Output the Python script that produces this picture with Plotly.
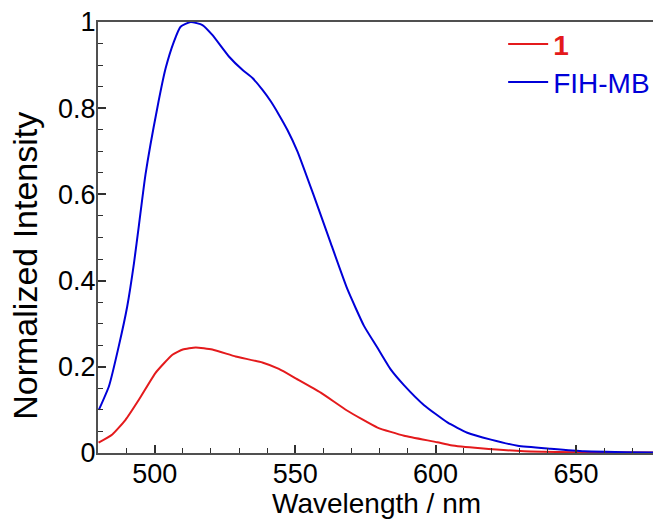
import plotly.graph_objects as go

# FIH-MB (blue)
wl_fih = [480.1, 483.7, 487.2, 490.2, 492.6, 494.4, 496.7, 500.9, 503.9, 506.8, 509.2,
          512.8, 517.0, 520.5, 526.4, 531.2, 534.8, 538.3, 541.3, 544.2, 547.2, 550.8,
          556.7, 562.6, 568.6, 574.5, 579.3, 584.0, 588.8, 595.9, 604.2, 611.3, 619.7,
          629.2, 641.0, 652.9, 677.4]
int_fih = [0.10, 0.155, 0.248, 0.34, 0.44, 0.53, 0.646, 0.80, 0.893, 0.954, 0.989,
           1.0, 0.993, 0.97, 0.92, 0.889, 0.87, 0.843, 0.816, 0.785, 0.75, 0.70,
           0.596, 0.488, 0.38, 0.295, 0.244, 0.194, 0.157, 0.111, 0.071, 0.047, 0.031,
           0.017, 0.010, 0.004, 0.001]

# compound 1 (red)
wl_1 = [480.0, 484.9, 489.6, 494.4, 500.3, 506.3, 510.0, 514.6, 520.5, 528.8, 538.3,
        544.2, 550.5, 559.1, 568.6, 579.3, 588.8, 600.6, 605.4, 616.0, 631.5, 650.0, 677.4]
int_1 = [0.024, 0.043, 0.077, 0.124, 0.186, 0.228, 0.240, 0.245, 0.24, 0.224, 0.21,
         0.195, 0.172, 0.14, 0.098, 0.059, 0.04, 0.025, 0.018, 0.011, 0.004, 0.002, 0.001]

x_ticks = [500, 550, 600, 650]
y_ticks = [0, 0.2, 0.4, 0.6, 0.8, 1]
y_ticktext = ["0", "0.2", "0.4", "0.6", "0.8", "1"]

RED = "#e41a1c"
BLUE = "#0000d8"
FONT = "Liberation Sans, Arial, sans-serif"

fig = go.Figure()
fig.add_trace(go.Scatter(
    x=wl_1, y=int_1, mode="lines",
    line=dict(color=RED, width=2, shape="spline", smoothing=0.45),
    name=f'<span style="color:{RED}"><b>1</b></span>', legend="legend"))
fig.add_trace(go.Scatter(
    x=wl_fih, y=int_fih, mode="lines",
    line=dict(color=BLUE, width=2, shape="spline", smoothing=0.45),
    name=f'<span style="color:{BLUE}">FIH-MB</span>', legend="legend2"))

axis_common = dict(
    showgrid=False, zeroline=False, showline=True, linecolor="#505050", linewidth=2,
    ticks="inside", tickcolor="#303030", tickwidth=1.5, ticklen=8,
    tickfont=dict(family=FONT, size=27, color="black"),
)

fig.update_xaxes(
    **axis_common, range=[479.8, 677.4], tickvals=x_ticks, mirror=True,
    ticklabelstandoff=-4,
    minor=dict(ticks="inside", dtick=10, ticklen=5, tickcolor="#303030", tickwidth=1.2),
)
fig.update_yaxes(
    **axis_common, range=[0, 1], tickvals=y_ticks, ticktext=y_ticktext,
    ticklabelstandoff=-5,
    minor=dict(ticks="inside", dtick=0.05, ticklen=5, tickcolor="#303030", tickwidth=1.2),
)

legend_common = dict(xanchor="left", yanchor="top", bgcolor="rgba(0,0,0,0)",
                     font=dict(family=FONT, size=28, color="black"), itemwidth=40)

fig.update_layout(
    width=653, height=525,
    margin=dict(l=98, r=0, t=22, b=72, autoexpand=False),
    plot_bgcolor="white", paper_bgcolor="white",
    showlegend=True,
    legend=dict(x=0.730, y=1.006, **legend_common),
    legend2=dict(x=0.730, y=0.918, **legend_common),
    annotations=[
        dict(text="Wavelength / nm", xref="paper", yref="paper", x=0.5027, y=-0.117,
             xanchor="center", yanchor="middle", showarrow=False,
             font=dict(family=FONT, size=28, color="black")),
        dict(text="Normalized Intensity", xref="paper", yref="paper", x=-0.1315, y=0.4345,
             xanchor="center", yanchor="middle", showarrow=False, textangle=-90,
             font=dict(family=FONT, size=34, color="black")),
    ],
)

fig.write_html("out.html")
